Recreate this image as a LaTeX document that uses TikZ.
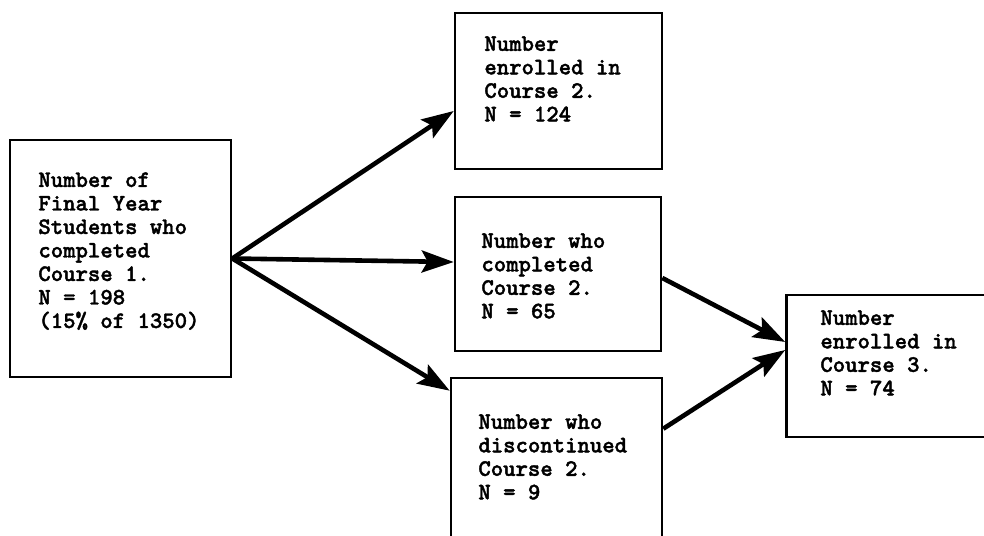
\documentclass[tikz,border=0pt]{standalone}
\usepackage{fontspec}
\newfontfamily\tw[FakeBold=1.6]{lmmonolt10-bold.otf}
\usetikzlibrary{arrows.meta}
\begin{document}
\begin{tikzpicture}[x=0.5pt,y=-0.5pt,
  box/.style={draw, line width=1.3pt, inner sep=0pt, rectangle},
  txt/.style={anchor=north west, inner sep=0pt, align=left,
    font=\tw\fontsize{11.8}{11.75}\selectfont},
  flow/.style={line width=2.3pt, -{Stealth[length=16pt,width=11pt,inset=3pt]}}]
\clip (0,0) rectangle (984,535);
\fill[white] (0,0) rectangle (984,535);
% boxes
\node[box, minimum width=110.5pt, minimum height=118.5pt] (L) at (120.5,258.5) {};
\node[box, minimum width=103.5pt, minimum height=78pt] (T) at (558.5,91) {};
\node[box, minimum width=103pt, minimum height=77pt] (M) at (558,274) {};
\node[box, minimum width=105.5pt, minimum height=85pt] (B) at (556.5,463) {};
\node[box, minimum width=107pt, minimum height=71pt] (R) at (893.5,366) {};
% texts
\node[txt] (tL) at (38,172) {Number of\\Final Year\\Students who\\completed\\Course 1.\\N = 198\\(15\% of 1350)};
\node[txt] (tT) at (484,36) {Number\\enrolled in\\Course 2.\\N = 124};
\node[txt] (tM) at (481,233) {Number who\\completed\\Course 2.\\N = 65};
\node[txt] (tB) at (478,414) {Number who\\discontinued\\Course 2.\\N = 9};
\node[txt] (tR) at (820,310) {Number\\enrolled in\\Course 3.\\N = 74};
% connectors
\draw[flow] (L.east) -- ([yshift=-10pt]T.west);
\draw[flow] (L.east) -- ([yshift=6pt]M.west);
\draw[flow] (L.east) -- ([yshift=-7pt]B.north west);
\draw[flow] ([yshift=-2pt]M.east) -- ([yshift=12pt]R.west);
\draw[flow] ([yshift=-26pt]B.north east) -- ([yshift=8pt]R.west);
\end{tikzpicture}
\end{document}
